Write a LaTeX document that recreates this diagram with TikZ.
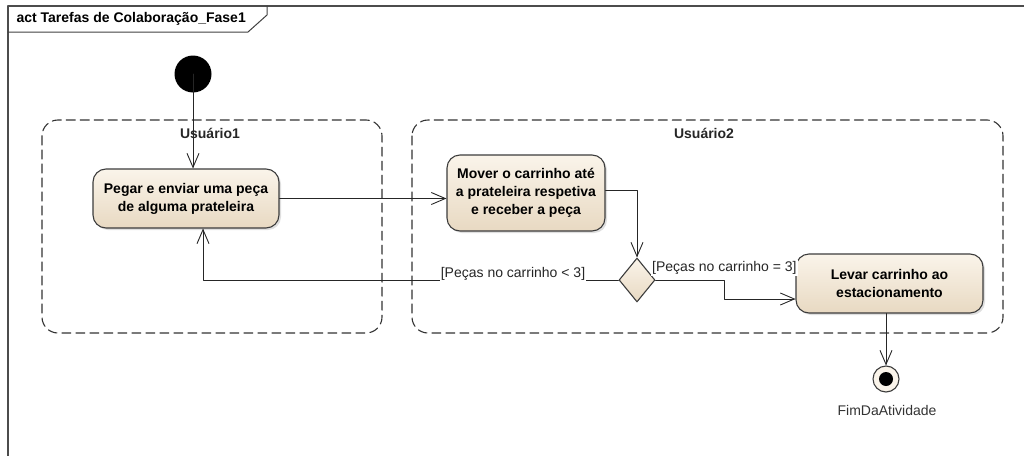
\documentclass[tikz,border=0pt]{standalone}
\usepackage{fontspec}
\setmainfont{Liberation Sans}
\usetikzlibrary{arrows.meta,shapes.geometric,shadows}
\definecolor{bege}{HTML}{FAF4EA}
\definecolor{begeEsc}{HTML}{E8D9C2}
\definecolor{contorno}{HTML}{3C3C3C}
\begin{document}
\begin{tikzpicture}[x=1pt, y=-1pt, line join=round, line cap=round,
  font=\fontsize{14}{17}\selectfont,
  acao/.style={draw=contorno, line width=1.1pt, rounded corners=13pt,
    top color=bege, bottom color=begeEsc, align=center, inner sep=0pt,
    font=\fontsize{14}{18}\selectfont\bfseries,
    drop shadow={opacity=0.25, shadow xshift=2pt, shadow yshift=-2pt}},
  raia/.style={draw=black!80, dash pattern=on 9pt off 5pt, line width=1.1pt, rounded corners=16pt},
  fluxo/.style={draw=black!85, line width=0.9pt, -{Straight Barb[length=14pt,width=12pt]}},
  guarda/.style={fill=white, inner sep=1pt, text=black!85}]
\useasboundingbox (0,0) rectangle (1024,455);
% Moldura e aba do titulo
\draw[line width=1.5pt, black!70] (1030,6) -- (8,6) -- (8,460);
\draw[line width=1pt, black!75] (8,32) -- (248,32) -- (267,15) -- (267,6);
\node[anchor=west, font=\fontsize{14}{17}\selectfont\bfseries] (titulo) at (13,19) {act Tarefas de Colaboração\_Fase1};
% Raias
\draw[raia] (42,120) rectangle (382,333);
\draw[raia] (412,120) rectangle (1003,333);
\node[font=\fontsize{14}{17}\selectfont\bfseries, text=black!85] (usuario1) at (210,133) {Usuário1};
\node[font=\fontsize{14}{17}\selectfont\bfseries, text=black!85] (usuario2) at (704,133) {Usuário2};
% Nos
\node[circle, fill=black, minimum size=37pt, inner sep=0pt] (inicio) at (193,74) {};
\node[acao, minimum width=186pt, minimum height=59pt] (pegar) at (186,198.5)
  {Pegar e enviar uma peça\\de alguma prateleira};
\node[acao, minimum width=158pt, minimum height=76pt] (mover) at (526,193)
  {Mover o carrinho até\\a prateleira respetiva\\e receber a peça};
\node[diamond, draw=contorno, line width=1.1pt, top color=bege, bottom color=begeEsc,
  minimum width=36pt, minimum height=44pt, inner sep=0pt] (decisao) at (637,280) {};
\node[acao, minimum width=187pt, minimum height=59pt] (levar) at (889.5,283.5)
  {Levar carrinho ao\\estacionamento};
\node[circle, draw=contorno, fill=bege, line width=1.1pt, minimum size=26pt, inner sep=0pt] (fim) at (886,379) {};
\fill (fim.center) circle (7pt);
\node[text=black!80] (rotuloFim) at (887,410) {FimDaAtividade};
% Fluxos
\draw[fluxo] (inicio.center) -- (inicio.center |- pegar.north);
\draw[fluxo] (pegar.east) -- (pegar.east -| mover.west);
\draw[fluxo] ([yshift=3pt]mover.east) -| (decisao.north);
\draw[fluxo] (decisao.west) -| ([xshift=17pt]pegar.south);
\draw[fluxo] (decisao.east) -- ++(69,0) |- ([yshift=-15.5pt]levar.west);
\draw[fluxo] (fim |- levar.south) -- (fim.north);
% Guardas
\node[guarda] (menor) at (513,274) {[Peças no carrinho < 3]};
\node[guarda, anchor=west] (igual) at (651,268) {[Peças no carrinho = 3]};
\end{tikzpicture}
\end{document}
